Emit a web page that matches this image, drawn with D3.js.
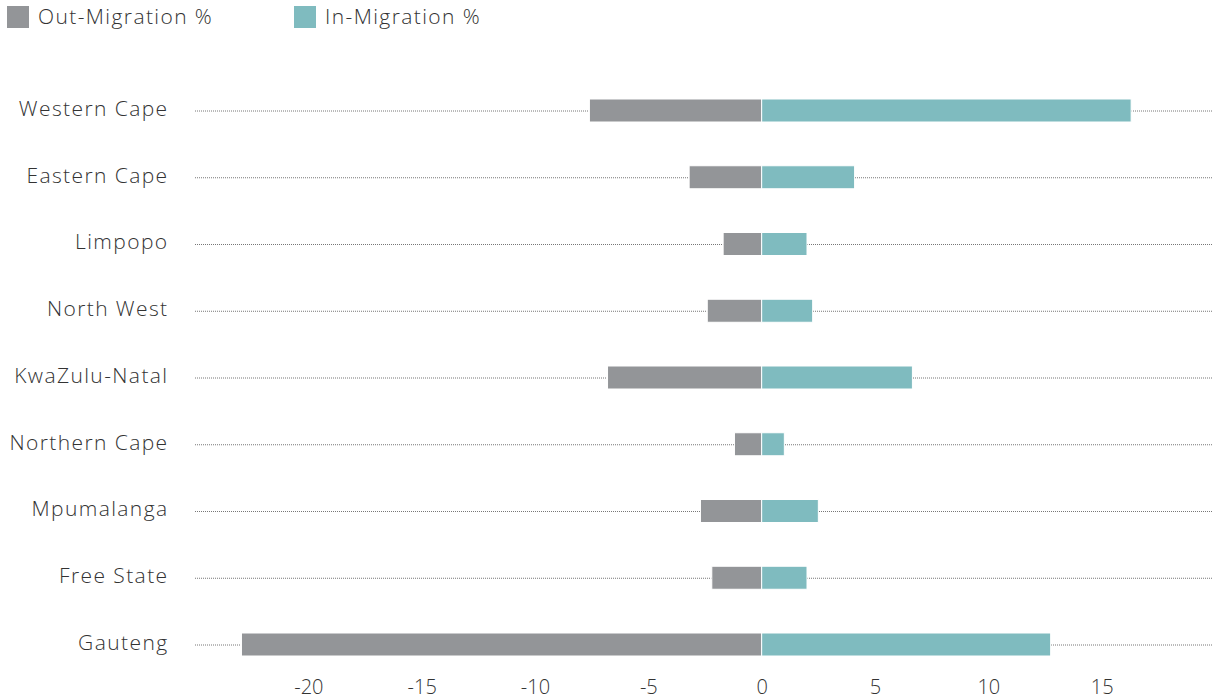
<!DOCTYPE html>
<html>
<head>
<meta charset="utf-8">
<script src="https://cdn.jsdelivr.net/npm/d3@7"></script>
<style>
  body { margin: 0; background: #fff; }
  text { font-family: "Open Sans", Lato, sans-serif; font-weight: 300; fill: #333; }
  .lab { letter-spacing: 1.4px; }
</style>
</head>
<body>
<div id="vis"></div>
<script>
var provinces = ['Western Cape', 'Eastern Cape', 'Limpopo', 'North West', 'KwaZulu-Natal',
                 'Northern Cape', 'Mpumalanga', 'Free State', 'Gauteng'];
var outMigration = [-7.6, -3.2, -1.7, -2.4, -6.8, -1.2, -2.7, -2.2, -22.95];
var inMigration = [16.3, 4.1, 2.0, 2.25, 6.65, 1.0, 2.5, 2.0, 12.75];
var xTicks = [-20, -15, -10, -5, 0, 5, 10, 15];
var seriesNames = ['Out-Migration %', 'In-Migration %'];
var colors = ['#939598', '#7fbbbf'];

var width = 1215, height = 700;

var svg = d3.select('#vis').append('svg')
            .attr('width', width)
            .attr('height', height);

var xScale = d3.scaleLinear().domain([-25, 20]).range([195, 1215]);
var yScale = d3.scalePoint().domain(provinces).range([110.5, 644.5]);
var barH = 23;

// dotted guide lines
svg.append('g').selectAll('line')
   .data(provinces)
   .enter().append('line')
   .attr('x1', 195).attr('x2', 1213)
   .attr('y1', (d) => yScale(d) + 0.5)
   .attr('y2', (d) => yScale(d) + 0.5)
   .attr('stroke', '#777')
   .attr('stroke-width', 1)
   .attr('stroke-dasharray', '1,1');

// province labels
svg.append('g').selectAll('text')
   .data(provinces)
   .enter().append('text')
   .attr('class', 'lab')
   .attr('x', 168.5)
   .attr('y', (d) => yScale(d) - 2)
   .attr('dy', '0.35em')
   .attr('text-anchor', 'end')
   .style('font-size', '21px')
   .text((d) => d);

var rows = provinces.map((p, i) => ({name: p, out: outMigration[i], inn: inMigration[i]}));

svg.append('g').selectAll('rect')
   .data(rows)
   .enter().append('rect')
   .attr('x', (d) => xScale(d.out))
   .attr('width', (d) => xScale(0) - xScale(d.out))
   .attr('y', (d) => yScale(d.name) - barH / 2)
   .attr('height', barH)
   .attr('fill', colors[0])
   .attr('stroke', '#fff')
   .attr('stroke-width', 1);

svg.append('g').selectAll('rect')
   .data(rows)
   .enter().append('rect')
   .attr('x', xScale(0))
   .attr('width', (d) => xScale(d.inn) - xScale(0))
   .attr('y', (d) => yScale(d.name) - barH / 2)
   .attr('height', barH)
   .attr('fill', colors[1])
   .attr('stroke', '#fff')
   .attr('stroke-width', 1);

// x axis (labels only)
var xAxis = d3.axisBottom(xScale).tickValues(xTicks).tickSize(0).tickPadding(0)
              .tickFormat((d) => String(d));
var xg = svg.append('g')
            .attr('transform', 'translate(0, 680)')
            .call(xAxis);
xg.select('.domain').remove();
xg.selectAll('text')
  .attr('dy', '0.71em')
  .style('font-size', '20px')
  .style('font-family', '"Open Sans", Lato, sans-serif')
  .attr('fill', '#333');

// legend
var legendX = [7, 294];
var legend = svg.append('g').selectAll('g')
                .data(seriesNames)
                .enter().append('g')
                .attr('transform', (d, i) => `translate(${legendX[i]}, 6)`);
legend.append('rect')
      .attr('width', 22).attr('height', 22)
      .attr('fill', (d, i) => colors[i]);
legend.append('text')
      .attr('class', 'lab')
      .attr('x', 31)
      .attr('y', 11)
      .attr('dy', '0.35em')
      .style('font-size', '21px')
      .text((d) => d);
</script>
</body>
</html>
